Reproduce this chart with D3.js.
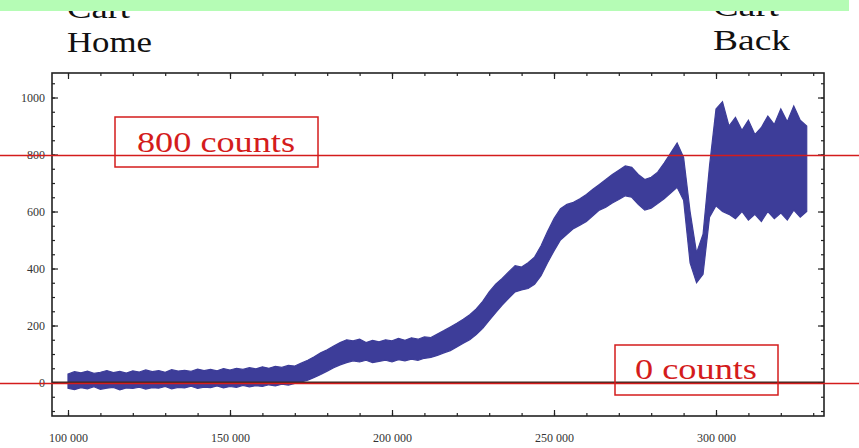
<!DOCTYPE html>
<html>
<head>
<meta charset="utf-8">
<script src="https://cdn.jsdelivr.net/npm/d3@7/dist/d3.min.js"></script>
<style>
  html, body { margin: 0; padding: 0; background: #ffffff; }
  svg { display: block; }
</style>
</head>
<body>
<script>
// Detector position (sample index) of each envelope point
const positions = d3.range(100000, 328001, 2000);

// Upper and lower edges of the count signal at each position
const upperCounts = [
  30, 38, 34, 40, 32, 36, 42, 35, 39, 33,
  41, 37, 44, 38, 42, 36, 45, 40, 43, 39,
  47, 42, 46, 41, 49, 44, 50, 46, 52, 48,
  55, 50, 57, 53, 60, 58, 68, 78, 90, 104,
  115, 128, 140, 150, 146, 152, 140, 148, 143, 150,
  146, 155, 148, 157, 152, 160, 158, 170, 182, 195,
  208, 222, 238, 258, 285, 318, 345, 365, 388, 410,
  405, 420, 440, 480, 530, 575, 610, 625, 632, 645,
  660, 678, 695, 712, 730, 745, 760, 755, 730, 712,
  720, 738, 770, 805, 840, 790, 600, 455, 520, 760,
  960, 985, 900, 930, 885, 920, 870, 895, 935, 905,
  960, 915, 970, 920, 900
];
const lowerCounts = [
  -20, -25, -18, -22, -15, -24, -20, -17, -26, -19,
  -21, -16, -23, -18, -20, -14, -22, -17, -19, -13,
  -21, -16, -18, -12, -19, -14, -17, -10, -15, -11,
  -14, -8, -12, -6, -9, -3, 2, 8, 18, 28,
  40, 52, 62, 70, 76, 72, 78, 70, 74, 78,
  72, 80, 76, 82, 78, 85, 88, 95, 104, 112,
  125, 138, 150, 168, 190, 218, 245, 272, 295, 318,
  325, 330, 345, 375, 420, 462, 500, 520, 540, 552,
  565, 585, 605, 615, 630, 642, 655, 650, 625, 605,
  612, 628, 645, 665, 685, 640, 420, 350, 380, 580,
  620, 600, 590, 575, 600, 570, 590, 565, 600, 575,
  595, 570, 605, 580, 600
];

// Axis ticks
const xMajorTicks = [100000, 150000, 200000, 250000, 300000];
const xTickLabels = ["100 000", "150 000", "200 000", "250 000", "300 000"];
const yMajorTicks = [0, 200, 400, 600, 800, 1000];
const yTickLabels = ["0", "200", "400", "600", "800", "1000"];

// Reference levels and their captions
const referenceLevels = [800, 0];
const levelCaptions = ["800 counts", "0 counts"];
const endLabels = [["Cart", "Home"], ["Cart", "Back"]];

const W = 859, H = 448;
const svg = d3.select("body").append("svg").attr("width", W).attr("height", H);

const frame = { left: 52, right: 824, top: 73, bottom: 416 };
const x = d3.scaleLinear().domain([95062, 333333]).range([frame.left, frame.right]);
const y = d3.scaleLinear().domain([-117.5, 1086]).range([frame.bottom, frame.top]);

const ink = "#222";
const red = "#d41c1c";
const blue = "#3d3d99";

// Signal band
const area = d3.area()
  .x((d, i) => x(positions[i]))
  .y0((d, i) => y(lowerCounts[i]))
  .y1((d, i) => y(upperCounts[i]));
svg.append("path")
  .datum(positions)
  .attr("d", area)
  .attr("fill", blue)
  .attr("stroke", blue)
  .attr("stroke-width", 1.2)
  .attr("stroke-linejoin", "miter");

// Zero axis inside the frame
svg.append("line")
  .attr("x1", frame.left).attr("x2", frame.right)
  .attr("y1", y(0)).attr("y2", y(0))
  .attr("stroke", "#3a2a22").attr("stroke-width", 2.2);

// Frame ticks (inward) on all four sides
const tickFont = "'Liberation Serif', serif";
function styleAxis(g) {
  g.select(".domain").remove();
  g.selectAll(".tick line").attr("stroke", ink).attr("stroke-width", 1.2);
  g.selectAll(".tick text").attr("fill", "#333").style("font-family", tickFont).style("font-size", "12px");
}
const xMinor = d3.range(100000, 333001, 10000);
const yMinor = d3.range(-100, 1081, 50);

svg.append("g").attr("transform", `translate(0,${frame.bottom})`)
  .call(d3.axisBottom(x).tickValues(xMinor).tickSize(-3).tickFormat("")).call(styleAxis);
svg.append("g").attr("transform", `translate(0,${frame.bottom})`)
  .call(d3.axisBottom(x).tickValues(xMajorTicks).tickSize(-6).tickPadding(17)
    .tickFormat((d, i) => xTickLabels[i])).call(styleAxis);
svg.append("g").attr("transform", `translate(0,${frame.top})`)
  .call(d3.axisTop(x).tickValues(xMinor).tickSize(-3).tickFormat("")).call(styleAxis);
svg.append("g").attr("transform", `translate(0,${frame.top})`)
  .call(d3.axisTop(x).tickValues(xMajorTicks).tickSize(-6).tickFormat("")).call(styleAxis);

svg.append("g").attr("transform", `translate(${frame.left},0)`)
  .call(d3.axisLeft(y).tickValues(yMinor).tickSize(-3).tickFormat("")).call(styleAxis);
svg.append("g").attr("transform", `translate(${frame.left},0)`)
  .call(d3.axisLeft(y).tickValues(yMajorTicks).tickSize(-6).tickPadding(7)
    .tickFormat((d, i) => yTickLabels[i])).call(styleAxis);
svg.append("g").attr("transform", `translate(${frame.right},0)`)
  .call(d3.axisRight(y).tickValues(yMinor).tickSize(-3).tickFormat("")).call(styleAxis);
svg.append("g").attr("transform", `translate(${frame.right},0)`)
  .call(d3.axisRight(y).tickValues(yMajorTicks).tickSize(-6).tickFormat("")).call(styleAxis);

// Frame
svg.append("rect")
  .attr("x", frame.left).attr("y", frame.top)
  .attr("width", frame.right - frame.left).attr("height", frame.bottom - frame.top)
  .attr("fill", "none").attr("stroke", ink).attr("stroke-width", 1.6);

// Reference lines across the whole page
svg.selectAll("line.level").data(referenceLevels).enter().append("line")
  .attr("class", "level")
  .attr("x1", 0).attr("x2", W)
  .attr("y1", d => y(d) + 1).attr("y2", d => y(d) + 1)
  .attr("stroke", red).attr("stroke-width", 1.6);

// Captions in boxes
const captionFont = "'Liberation Serif', 'Times New Roman', serif";
const boxes = [
  { x: 115, y: 117, w: 203, h: 50, tx: 137, ty: 152, tw: 158 },
  { x: 615, y: 345, w: 163, h: 50, tx: 635, ty: 379, tw: 122 }
];
boxes.forEach((b, i) => {
  svg.append("rect")
    .attr("x", b.x).attr("y", b.y).attr("width", b.w).attr("height", b.h)
    .attr("fill", "none").attr("stroke", red).attr("stroke-width", 1.5);
  svg.append("text")
    .attr("x", b.tx).attr("y", b.ty)
    .attr("textLength", b.tw).attr("lengthAdjust", "spacingAndGlyphs")
    .style("font-family", captionFont).style("font-size", "30px")
    .attr("fill", red)
    .text(levelCaptions[i]);
});

// Cart position labels at the ends of travel
const endPos = [
  { x: 67, base: 52, widths: [63, 85] },
  { x: 713, base: 50, widths: [66, 77] }
];
endLabels.forEach((lines, i) => {
  const p = endPos[i];
  lines.forEach((t, j) => {
    svg.append("text")
      .attr("x", p.x).attr("y", p.base - (lines.length - 1 - j) * 34)
      .attr("textLength", p.widths[j]).attr("lengthAdjust", "spacingAndGlyphs")
      .style("font-family", captionFont).style("font-size", "30px")
      .attr("fill", "#111")
      .text(t);
  });
});

// Light green strip along the top edge
svg.append("rect")
  .attr("x", 0).attr("y", 0).attr("width", 849).attr("height", 11)
  .attr("fill", "#b5fcb5");
</script>
</body>
</html>
